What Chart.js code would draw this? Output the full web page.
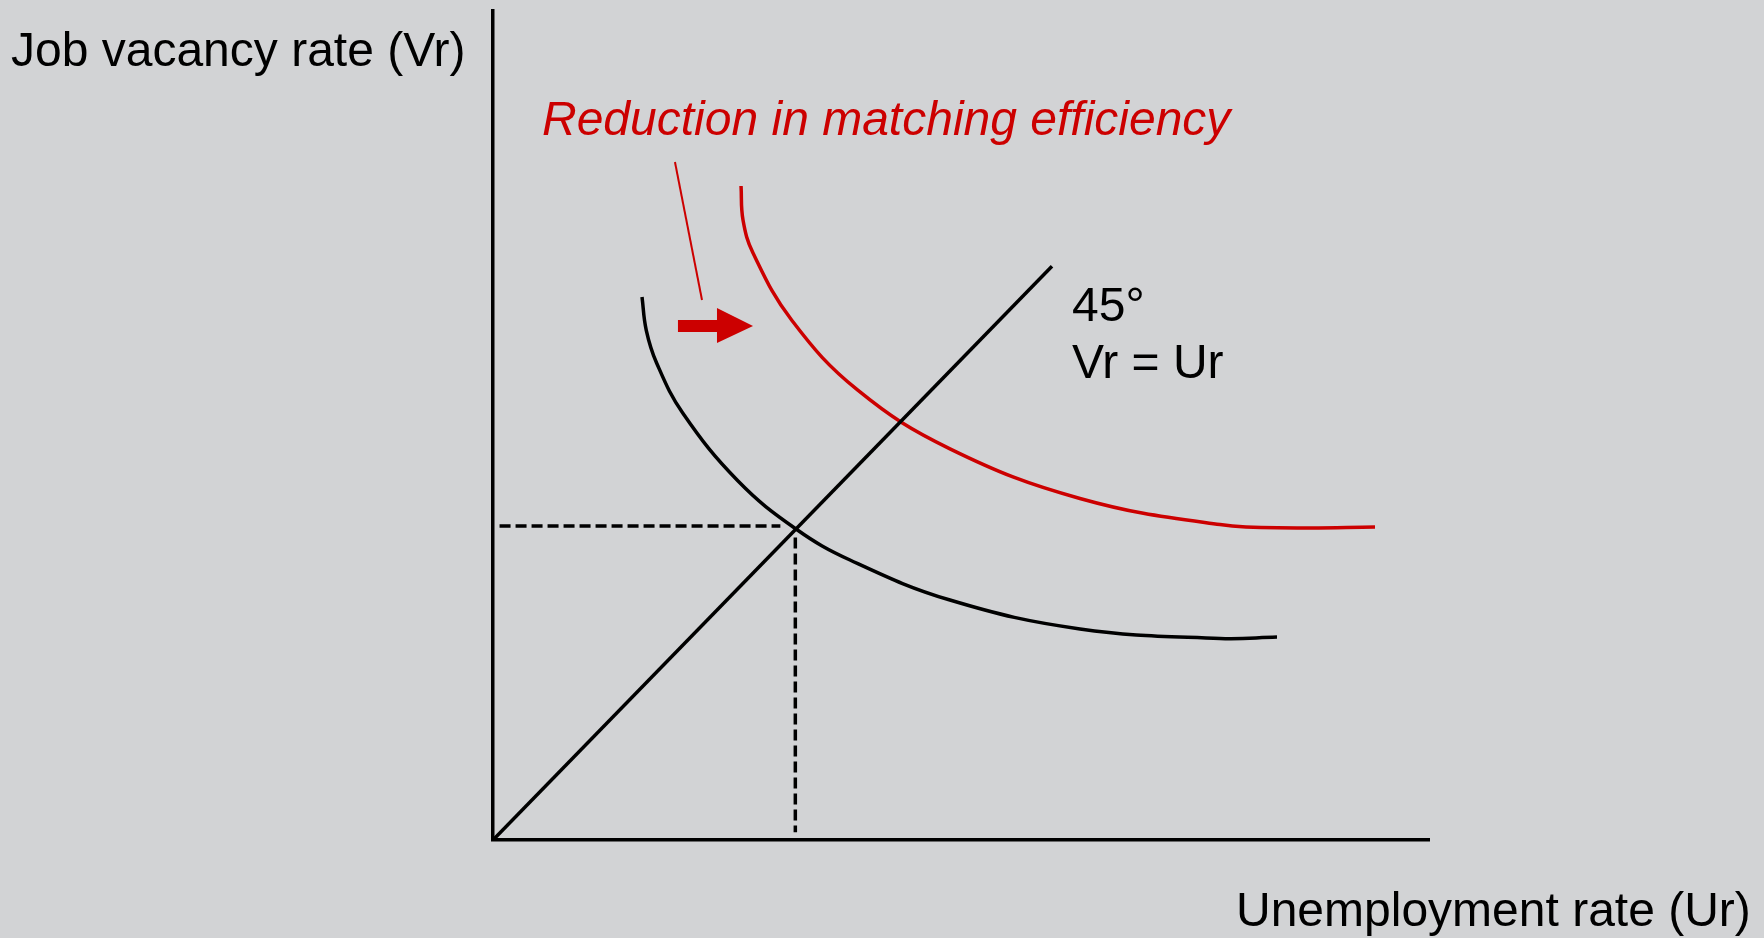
<!DOCTYPE html>
<html>
<head>
<meta charset="utf-8">
<script src="https://cdn.jsdelivr.net/npm/chart.js@4/dist/chart.umd.min.js"></script>
<style>
html,body{margin:0;padding:0;background:#D2D3D5;overflow:hidden;}
canvas{display:block;}
</style>
</head>
<body>
<canvas id="c" width="1764" height="938"></canvas>
<script>
// Original Beveridge curve (black)
const curve1X = [15.92, 16.37, 17.48, 20.27, 26.18, 32.37, 38.14, 48.82, 62.71, 77.67, 83.76];
const curve1Y = [56.53, 53.09, 49.66, 44.45, 37.37, 32.38, 29.15, 24.98, 21.97, 20.98, 21.13];
// Shifted curve after reduction in matching efficiency (red)
const curve2X = [26.50, 26.71, 27.78, 31.90, 38.94, 48.82, 62.71, 77.67, 85.90, 94.23];
const curve2Y = [68.08, 64.54, 61.11, 54.13, 46.85, 40.72, 35.55, 32.84, 32.48, 32.58];
// 45 degree line Vr = Ur
const diagX = [0, 59.72];
const diagY = [0, 59.72];
// Dashed guide lines to the equilibrium point
const hDashX = [0.7, 30.7];
const hDashY = [32.7, 32.7];
const vDashX = [32.3, 32.3];
const vDashY = [31.5, 0.8];
// Pointer line from the label
const pointerX = [19.44, 22.33];
const pointerY = [70.58, 56.22];
// Shift arrow outline
const arrowX = [19.76, 23.93, 23.93, 27.78, 23.93, 23.93, 19.76];
const arrowY = [54.13, 54.13, 55.38, 53.51, 51.74, 52.88, 52.88];

const X_MAX = 100, Y_MAX = 86.3;

function pts(xs, ys) { return xs.map((x, i) => ({x: x, y: ys[i]})); }

const RED = '#CC0000';

const annot = {
  id: 'annot',
  afterDatasetsDraw(chart) {
    const ctx = chart.ctx;
    const xs = chart.scales.x, ys = chart.scales.y;
    ctx.save();
    ctx.beginPath();
    arrowX.forEach((x, i) => {
      const px = xs.getPixelForValue(x), py = ys.getPixelForValue(arrowY[i]);
      if (i === 0) ctx.moveTo(px, py); else ctx.lineTo(px, py);
    });
    ctx.closePath();
    ctx.fillStyle = RED;
    ctx.fill();
    ctx.textBaseline = 'alphabetic';
    ctx.textAlign = 'left';
    ctx.fillStyle = '#000';
    ctx.font = '48px "Liberation Sans", Arial, sans-serif';
    ctx.fillText('Job vacancy rate (Vr)', 11, 66);
    ctx.fillText('45\u00B0', 1072, 321);
    ctx.fillText('Vr = Ur', 1072, 378);
    ctx.fillText('Unemployment rate (Ur)', 1236, 926);
    ctx.fillStyle = RED;
    ctx.font = 'italic 48px "Liberation Sans", Arial, sans-serif';
    ctx.fillText('Reduction in matching efficiency', 542, 135);
    ctx.restore();
  }
};

const lineBase = {pointRadius: 0, pointHoverRadius: 0, fill: false, tension: 0};

new Chart(document.getElementById('c'), {
  type: 'line',
  data: {
    datasets: [
      Object.assign({}, lineBase, {data: pts(diagX, diagY), borderColor: '#000', borderWidth: 3.5}),
      Object.assign({}, lineBase, {data: pts(hDashX, hDashY), borderColor: '#000', borderWidth: 3.5, borderDash: [11, 5]}),
      Object.assign({}, lineBase, {data: pts(vDashX, vDashY), borderColor: '#000', borderWidth: 3.5, borderDash: [11, 5]}),
      Object.assign({}, lineBase, {data: pts(curve1X, curve1Y), borderColor: '#000', borderWidth: 3.5, tension: 0.4}),
      Object.assign({}, lineBase, {data: pts(curve2X, curve2Y), borderColor: RED, borderWidth: 3.5, tension: 0.4}),
      Object.assign({}, lineBase, {data: pts(pointerX, pointerY), borderColor: RED, borderWidth: 2})
    ]
  },
  options: {
    responsive: false,
    animation: false,
    devicePixelRatio: 1,
    events: [],
    layout: {padding: {left: 493, right: 335, top: 11, bottom: 98}},
    plugins: {legend: {display: false}, tooltip: {enabled: false}},
    scales: {
      x: {
        type: 'linear', min: 0, max: X_MAX,
        grid: {display: false, drawTicks: false},
        border: {display: true, color: '#000', width: 3.5},
        ticks: {display: false},
        afterFit(s) { s.height = 0; }
      },
      y: {
        type: 'linear', min: 0, max: Y_MAX,
        grid: {display: false, drawTicks: false},
        border: {display: true, color: '#000', width: 3.5},
        ticks: {display: false},
        afterFit(s) { s.width = 0; }
      }
    }
  },
  plugins: [annot]
});
</script>
</body>
</html>
